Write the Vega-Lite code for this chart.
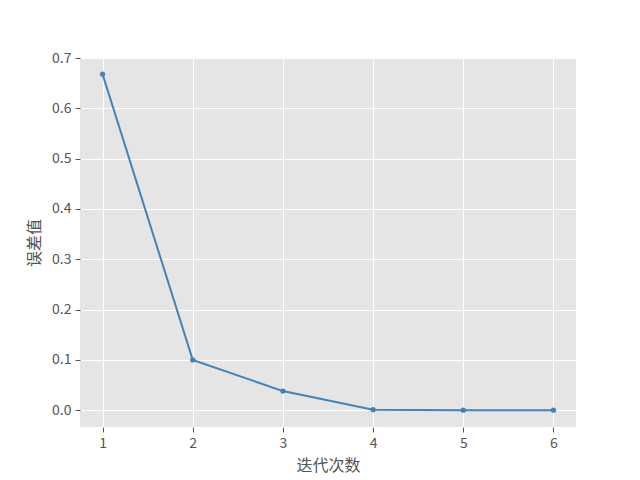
{
  "$schema": "https://vega.github.io/schema/vega-lite/v6.json",
  "width": 496,
  "height": 369,
  "autosize": {"type": "none"},
  "padding": {"left": 80, "top": 58, "right": 64, "bottom": 53},
  "background": "white",
  "config": {
    "view": {"fill": "#E5E5E5", "stroke": null},
    "font": "Noto Sans CJK SC",
    "axis": {
      "gridColor": "white",
      "gridWidth": 1,
      "domain": false,
      "tickColor": "#555555",
      "tickSize": 5,
      "labelColor": "#555555",
      "labelFontSize": 14,
      "labelFont": "Noto Sans CJK SC",
      "titleColor": "#555555",
      "titleFontSize": 16,
      "titleFontWeight": "normal",
      "titleFont": "Noto Sans CJK SC",
      "labelPadding": 4
    }
  },
  "data": {
    "values": [
      {"iter": 1, "err": 0.668},
      {"iter": 2, "err": 0.1},
      {"iter": 3, "err": 0.038},
      {"iter": 4, "err": 0.001},
      {"iter": 5, "err": 0.0},
      {"iter": 6, "err": 0.0}
    ]
  },
  "mark": {"type": "line", "color": "#4682B4", "strokeWidth": 2, "point": {"filled": true, "size": 28, "color": "#4682B4"}},
  "encoding": {
    "x": {
      "field": "iter", "type": "quantitative",
      "scale": {"domain": [0.75, 6.25], "nice": false, "zero": false},
      "axis": {"values": [1, 2, 3, 4, 5, 6], "title": "迭代次数", "titlePadding": 7, "labelFlush": false}
    },
    "y": {
      "field": "err", "type": "quantitative",
      "scale": {"domain": [-0.0334, 0.7], "nice": false, "zero": false},
      "axis": {"values": [0, 0.1, 0.2, 0.3, 0.4, 0.5, 0.6, 0.7], "format": ".1f", "title": "误差值", "titlePadding": 9, "labelFlush": false}
    }
  }
}
